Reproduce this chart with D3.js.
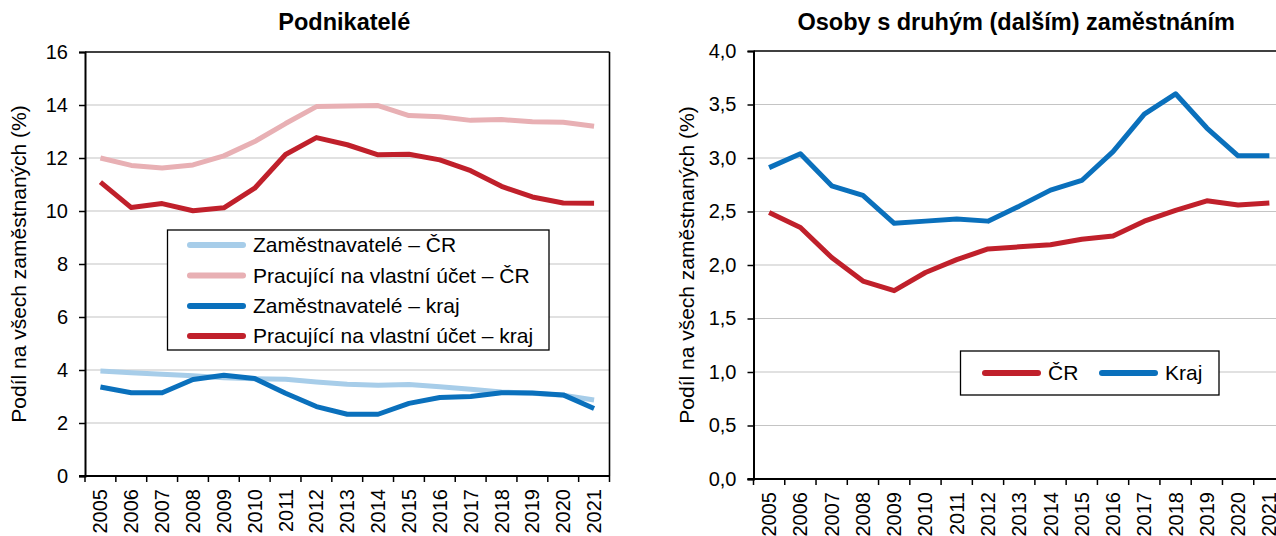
<!DOCTYPE html>
<html>
<head>
<meta charset="utf-8">
<script src="https://cdn.jsdelivr.net/npm/d3@7"></script>
<style>
  body { margin: 0; background: #fff; }
  svg { display: block; font-family: "Liberation Sans", Arial, sans-serif; }
</style>
</head>
<body>
<div id="chart"></div>
<script>
// years on the x axis (both panels)
const years = [2005, 2006, 2007, 2008, 2009, 2010, 2011, 2012, 2013, 2014, 2015, 2016, 2017, 2018, 2019, 2020, 2021];

// left panel - Podnikatelé
const zamCR  = [3.96, 3.90, 3.84, 3.78, 3.71, 3.67, 3.65, 3.55, 3.46, 3.42, 3.45, 3.37, 3.27, 3.17, 3.12, 3.05, 2.87];
const pracCR = [12.0, 11.72, 11.62, 11.74, 12.08, 12.62, 13.3, 13.94, 13.96, 13.98, 13.6, 13.56, 13.42, 13.45, 13.37, 13.35, 13.2];
const zamKraj  = [3.36, 3.14, 3.14, 3.64, 3.8, 3.68, 3.12, 2.62, 2.33, 2.33, 2.74, 2.96, 3.0, 3.14, 3.13, 3.06, 2.55];
const pracKraj = [11.09, 10.13, 10.28, 10.01, 10.12, 10.86, 12.13, 12.77, 12.5, 12.12, 12.14, 11.93, 11.52, 10.93, 10.53, 10.3, 10.29];
const leftTicks = [0, 2, 4, 6, 8, 10, 12, 14, 16];

// right panel - Osoby s druhým (dalším) zaměstnáním
const druheCR   = [2.49, 2.35, 2.07, 1.85, 1.76, 1.93, 2.05, 2.15, 2.17, 2.19, 2.24, 2.27, 2.41, 2.51, 2.6, 2.56, 2.58];
const druheKraj = [2.91, 3.04, 2.74, 2.65, 2.39, 2.41, 2.43, 2.41, 2.55, 2.70, 2.79, 3.06, 3.41, 3.60, 3.28, 3.02, 3.02];
const rightTicks = [0, 0.5, 1.0, 1.5, 2.0, 2.5, 3.0, 3.5, 4.0];

const col = {
  lightBlue: '#a7cde9',
  pink: '#e8b0b4',
  blue: '#0a70bc',
  red: '#c0202b'
};

const W = 1276, H = 536;
const svg = d3.select('#chart').append('svg')
  .attr('width', W)
  .attr('height', H);

function panel(opt) {
  const x = d3.scaleBand().domain(years).range([opt.x0, opt.x1]).padding(0);
  const y = d3.scaleLinear().domain([0, opt.max]).range([opt.yBot, opt.yTop]);
  const g = svg.append('g');
  const cx = d => x(d) + x.bandwidth() / 2;

  // gridlines
  g.append('g').selectAll('line')
    .data(opt.ticks.filter(t => t > 0 && t < opt.max))
    .join('line')
    .attr('x1', opt.x0).attr('x2', opt.x1)
    .attr('y1', d => y(d)).attr('y2', d => y(d))
    .attr('stroke', '#c4c4c4').attr('stroke-width', 1.2);

  // frame top / right
  g.append('line').attr('x1', opt.x0).attr('x2', opt.x1)
    .attr('y1', y(opt.max)).attr('y2', y(opt.max))
    .attr('stroke', '#000').attr('stroke-width', 1.6);
  g.append('line').attr('x1', opt.x1).attr('x2', opt.x1)
    .attr('y1', y(opt.max)).attr('y2', y(0))
    .attr('stroke', '#000').attr('stroke-width', 1.6);

  // y axis
  const ya = g.append('g')
    .attr('transform', `translate(${opt.x0},0)`)
    .call(d3.axisLeft(y).tickValues(opt.ticks).tickSize(6).tickPadding(11).tickFormat(opt.fmt));
  ya.select('.domain').attr('stroke-width', 2);
  ya.selectAll('.tick line').attr('stroke-width', 1.5);
  ya.selectAll('text').attr('font-size', 20).attr('fill', '#000').attr('font-family', null);

  // x axis: ticks at band edges, labels rotated
  const edges = years.map(d => x(d)).concat([opt.x1]);
  g.append('g').selectAll('line').data(edges).join('line')
    .attr('x1', d => d).attr('x2', d => d)
    .attr('y1', y(0)).attr('y2', y(0) + 6)
    .attr('stroke', '#000').attr('stroke-width', 1.5);
  g.append('line').attr('x1', opt.x0 - 6).attr('x2', opt.x1)
    .attr('y1', y(0)).attr('y2', y(0))
    .attr('stroke', '#000').attr('stroke-width', 2);
  g.append('g').selectAll('text').data(years).join('text')
    .attr('transform', d => `translate(${cx(d)},${y(0) + 13}) rotate(-90)`)
    .attr('text-anchor', 'end')
    .attr('dy', '0.35em')
    .attr('font-size', 20)
    .text(d => d);

  // series
  const line = d3.line().x((d, i) => cx(years[i])).y(d => y(d));
  opt.series.forEach(s => {
    g.append('path').datum(s.values)
      .attr('fill', 'none')
      .attr('stroke', s.color)
      .attr('stroke-width', 5)
      .attr('stroke-linejoin', 'round')
      .attr('d', line);
  });

  // titles
  svg.append('text')
    .attr('x', (opt.x0 + opt.x1) / 2 - 3).attr('y', 30)
    .attr('text-anchor', 'middle')
    .attr('font-size', 23.5).attr('font-weight', 'bold')
    .text(opt.title);
  svg.append('text')
    .attr('transform', `translate(${opt.yTitleX},${(opt.yTop + opt.yBot) / 2}) rotate(-90)`)
    .attr('text-anchor', 'middle')
    .attr('font-size', 21)
    .text('Podíl na všech zaměstnaných (%)');

  // legend
  const L = opt.legend;
  const lg = svg.append('g');
  lg.append('rect')
    .attr('x', L.x).attr('y', L.y).attr('width', L.w).attr('height', L.h)
    .attr('fill', '#fff').attr('stroke', '#000').attr('stroke-width', 1.3);
  L.items.forEach(it => {
    lg.append('line')
      .attr('x1', it.x).attr('x2', it.x + 53)
      .attr('y1', it.y).attr('y2', it.y)
      .attr('stroke', it.color).attr('stroke-width', 6)
      .attr('stroke-linecap', 'round');
    lg.append('text')
      .attr('x', it.x + 63).attr('y', it.y)
      .attr('dy', '0.35em')
      .attr('font-size', 21)
      .text(it.label);
  });
}

panel({
  x0: 85, x1: 609.5, yTop: 52, yBot: 476, max: 16,
  ticks: leftTicks, fmt: d3.format('d'),
  title: 'Podnikatelé', yTitleX: 26,
  series: [
    { values: zamCR, color: col.lightBlue },
    { values: pracCR, color: col.pink },
    { values: zamKraj, color: col.blue },
    { values: pracKraj, color: col.red }
  ],
  legend: {
    x: 167.5, y: 230, w: 381.5, h: 120,
    items: [
      { x: 190, y: 245, color: col.lightBlue, label: 'Zaměstnavatelé – ČR' },
      { x: 190, y: 275.5, color: col.pink, label: 'Pracující na vlastní účet – ČR' },
      { x: 190, y: 306, color: col.blue, label: 'Zaměstnavatelé – kraj' },
      { x: 190, y: 336, color: col.red, label: 'Pracující na vlastní účet – kraj' }
    ]
  }
});

panel({
  x0: 753.5, x1: 1285, yTop: 51, yBot: 479, max: 4,
  ticks: rightTicks, fmt: d => d3.format('.1f')(d).replace('.', ','),
  title: 'Osoby s druhým (dalším) zaměstnáním', yTitleX: 694,
  series: [
    { values: druheCR, color: col.red },
    { values: druheKraj, color: col.blue }
  ],
  legend: {
    x: 960.5, y: 351, w: 258.5, h: 44,
    items: [
      { x: 985, y: 373, color: col.red, label: 'ČR' },
      { x: 1102, y: 373, color: col.blue, label: 'Kraj' }
    ]
  }
});
</script>
</body>
</html>
